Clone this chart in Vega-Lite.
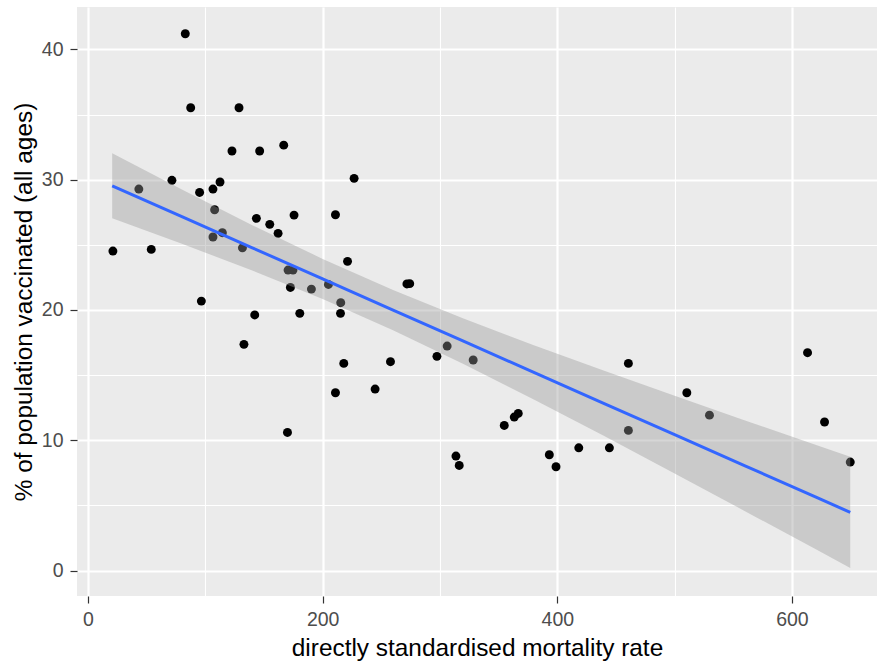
{
  "$schema": "https://vega.github.io/schema/vega-lite/v6.json",
  "width": 800,
  "height": 589,
  "autosize": {"type": "none"},
  "padding": {"left": 77, "top": 7, "right": 0, "bottom": 66},
  "background": "white",
  "config": {
    "view": {"fill": "#EBEBEB", "stroke": null},
    "font": "Liberation Sans",
    "axis": {
      "domain": false,
      "gridColor": "white",
      "tickColor": "#333333",
      "tickWidth": 1.2,
      "tickSize": 7,
      "labelPadding": 7,
      "labelColor": "#4D4D4D",
      "labelFontSize": 19.5,
      "labelFont": "Liberation Sans",
      "titleFont": "Liberation Sans",
      "titleFontSize": 24.4,
      "titleFontWeight": "normal",
      "titleColor": "black",
      "labelFlush": false,
      "labelOverlap": false
    }
  },
  "datasets": {
    "points": [
      {"dsmr": 82.9, "pct": 41.2},
      {"dsmr": 87.5, "pct": 35.52},
      {"dsmr": 128.7, "pct": 35.52},
      {"dsmr": 122.7, "pct": 32.2},
      {"dsmr": 146.3, "pct": 32.2},
      {"dsmr": 166.8, "pct": 32.65},
      {"dsmr": 71.5, "pct": 29.95},
      {"dsmr": 43.3, "pct": 29.28},
      {"dsmr": 95.1, "pct": 29.02},
      {"dsmr": 106.5, "pct": 29.28},
      {"dsmr": 112.5, "pct": 29.82},
      {"dsmr": 107.9, "pct": 27.69},
      {"dsmr": 143.5, "pct": 27.03},
      {"dsmr": 154.9, "pct": 26.57},
      {"dsmr": 162.0, "pct": 25.88},
      {"dsmr": 106.5, "pct": 25.6},
      {"dsmr": 114.5, "pct": 25.93},
      {"dsmr": 175.6, "pct": 27.28},
      {"dsmr": 131.6, "pct": 24.77},
      {"dsmr": 21.2, "pct": 24.52},
      {"dsmr": 53.9, "pct": 24.65},
      {"dsmr": 170.5, "pct": 23.06},
      {"dsmr": 174.7, "pct": 23.06},
      {"dsmr": 172.5, "pct": 21.73},
      {"dsmr": 96.6, "pct": 20.68},
      {"dsmr": 142.1, "pct": 19.62},
      {"dsmr": 180.5, "pct": 19.74},
      {"dsmr": 132.9, "pct": 17.36},
      {"dsmr": 170.0, "pct": 10.6},
      {"dsmr": 226.8, "pct": 30.1},
      {"dsmr": 210.9, "pct": 27.31},
      {"dsmr": 221.2, "pct": 23.73},
      {"dsmr": 190.4, "pct": 21.6},
      {"dsmr": 204.9, "pct": 21.96},
      {"dsmr": 215.4, "pct": 20.56},
      {"dsmr": 215.2, "pct": 19.74},
      {"dsmr": 271.8, "pct": 22.0},
      {"dsmr": 274.2, "pct": 22.02},
      {"dsmr": 306.1, "pct": 17.23},
      {"dsmr": 328.3, "pct": 16.16},
      {"dsmr": 297.4, "pct": 16.44},
      {"dsmr": 257.8, "pct": 16.03},
      {"dsmr": 218.0, "pct": 15.9},
      {"dsmr": 244.7, "pct": 13.93},
      {"dsmr": 210.9, "pct": 13.65},
      {"dsmr": 460.6, "pct": 15.9},
      {"dsmr": 613.3, "pct": 16.72},
      {"dsmr": 510.4, "pct": 13.65},
      {"dsmr": 529.7, "pct": 11.93},
      {"dsmr": 627.8, "pct": 11.4},
      {"dsmr": 649.7, "pct": 8.33},
      {"dsmr": 460.6, "pct": 10.76},
      {"dsmr": 354.8, "pct": 11.14},
      {"dsmr": 363.3, "pct": 11.78},
      {"dsmr": 366.7, "pct": 12.06},
      {"dsmr": 313.6, "pct": 8.79},
      {"dsmr": 316.4, "pct": 8.07},
      {"dsmr": 393.2, "pct": 8.89},
      {"dsmr": 398.9, "pct": 7.97},
      {"dsmr": 418.3, "pct": 9.42},
      {"dsmr": 444.4, "pct": 9.42}
    ],
    "fit": [
      {"dsmr": 20.6, "lower": 27.03, "fit": 29.53, "upper": 32.03},
      {"dsmr": 80, "lower": 25.08, "fit": 27.16, "upper": 29.24},
      {"dsmr": 140, "lower": 23.03, "fit": 24.77, "upper": 26.51},
      {"dsmr": 200, "lower": 20.84, "fit": 22.38, "upper": 23.92},
      {"dsmr": 260, "lower": 18.45, "fit": 19.99, "upper": 21.53},
      {"dsmr": 320, "lower": 15.86, "fit": 17.6, "upper": 19.34},
      {"dsmr": 380, "lower": 13.13, "fit": 15.21, "upper": 17.29},
      {"dsmr": 440, "lower": 10.32, "fit": 12.82, "upper": 15.33},
      {"dsmr": 500, "lower": 7.45, "fit": 10.43, "upper": 13.41},
      {"dsmr": 560, "lower": 4.56, "fit": 8.04, "upper": 11.52},
      {"dsmr": 620, "lower": 1.65, "fit": 5.65, "upper": 9.65},
      {"dsmr": 649.7, "lower": 0.2, "fit": 4.47, "upper": 8.74}
    ]
  },
  "encoding": {
    "x": {
      "field": "dsmr",
      "type": "quantitative",
      "title": "directly standardised mortality rate",
      "scale": {"domain": [-9.4, 672.5], "nice": false, "zero": false},
      "axis": {
        "values": [0, 100, 200, 300, 400, 500, 600],
        "labelExpr": "datum.value % 200 === 0 ? datum.label : ''",
        "tickOpacity": {"condition": {"test": "datum.value % 200 === 0", "value": 1}, "value": 0},
        "gridWidth": {"condition": {"test": "datum.value % 200 === 0", "value": 2.2}, "value": 1.1},
        "titlePadding": 8
      }
    }
  },
  "layer": [
    {
      "data": {"name": "points"},
      "mark": {"type": "circle", "size": 80, "opacity": 1, "color": "black"},
      "encoding": {
        "y": {
          "field": "pct",
          "type": "quantitative",
          "title": "% of population vaccinated (all ages)",
          "scale": {"domain": [-1.95, 43.25], "nice": false, "zero": false},
          "axis": {
            "values": [0, 5, 10, 15, 20, 25, 30, 35, 40],
            "labelExpr": "datum.value % 10 === 0 ? datum.label : ''",
            "tickOpacity": {"condition": {"test": "datum.value % 10 === 0", "value": 1}, "value": 0},
            "gridWidth": {"condition": {"test": "datum.value % 10 === 0", "value": 2.2}, "value": 1.1},
            "titlePadding": 5
          }
        }
      }
    },
    {
      "data": {"name": "fit"},
      "mark": {"type": "area", "color": "#999999", "opacity": 0.4},
      "encoding": {
        "y": {"field": "lower", "type": "quantitative", "title": "% of population vaccinated (all ages)"},
        "y2": {"field": "upper"}
      }
    },
    {
      "data": {"name": "fit"},
      "mark": {"type": "line", "color": "#3366FF", "strokeWidth": 3},
      "encoding": {
        "y": {"field": "fit", "type": "quantitative", "title": "% of population vaccinated (all ages)"}
      }
    }
  ]
}
